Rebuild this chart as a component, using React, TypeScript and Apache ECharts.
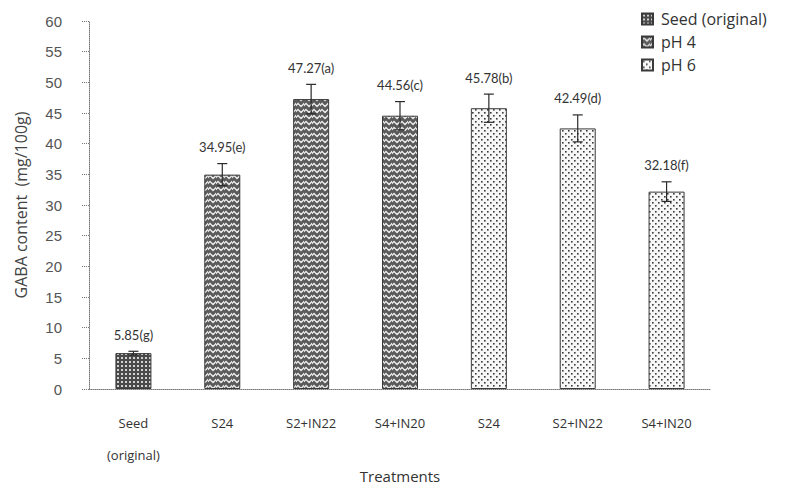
import React, { useEffect, useRef } from "react";
import * as echarts from "echarts";

const xLabels = ["Seed\n(original)", "S24", "S2+IN22", "S4+IN20", "S24", "S2+IN22", "S4+IN20"];
const seriesNames = ["Seed (original)", "pH 4", "pH 6"];
const seedValues = [5.85, null, null, null, null, null, null];
const ph4Values = [null, 34.95, 47.27, 44.56, null, null, null];
const ph6Values = [null, null, null, null, 45.78, 42.49, 32.18];
const means = [5.85, 34.95, 47.27, 44.56, 45.78, 42.49, 32.18];
const errors = [0.3, 1.8, 2.4, 2.3, 2.3, 2.2, 1.6];
const letters = ["g", "e", "a", "c", "b", "d", "f"];
const yTicks = { min: 0, max: 60, interval: 5 };

function makePattern(kind: string) {
  const c = document.createElement("canvas");
  let w = 4, h = 4;
  if (kind === "seed") { w = 4; h = 4; }
  if (kind === "ph4") { w = 8; h = 6; }
  if (kind === "ph6") { w = 6; h = 6; }
  c.width = w; c.height = h;
  const ctx = c.getContext("2d")!;
  if (kind === "seed") {
    ctx.fillStyle = "#4a4a4a";
    ctx.fillRect(0, 0, w, h);
    ctx.fillStyle = "#d0d0d0";
    ctx.fillRect(1, 1, 2, 2);
  } else if (kind === "ph4") {
    ctx.fillStyle = "#5a5a5a";
    ctx.fillRect(0, 0, w, h);
    ctx.strokeStyle = "#ececec";
    ctx.lineWidth = 1.3;
    ctx.beginPath();
    ctx.moveTo(-1, 4.5); ctx.lineTo(2, 1.5); ctx.lineTo(5, 4.5); ctx.lineTo(8, 1.5); ctx.lineTo(9, 2.5);
    ctx.stroke();
  } else {
    ctx.fillStyle = "#f7f7f7";
    ctx.fillRect(0, 0, w, h);
    ctx.fillStyle = "#3a3a3a";
    ctx.fillRect(1, 1, 1.6, 1.6);
    ctx.fillRect(4, 4, 1.6, 1.6);
  }
  return { image: c, repeat: "repeat", imageWidth: w, imageHeight: h } as any;
}

export default function App() {
  const ref = useRef<HTMLDivElement>(null);
  useEffect(() => {
    if (!ref.current) return;
    const chart = echarts.init(ref.current, null, { renderer: "svg" });
    const patterns = [makePattern("seed"), makePattern("ph4"), makePattern("ph6")];
    const valueLists = [seedValues, ph4Values, ph6Values];
    const barSeries = seriesNames.map((name, k) => ({
      name,
      type: "bar",
      data: valueLists[k],
      barWidth: 36,
      barGap: "-100%",
      itemStyle: { color: patterns[k], borderColor: "#3a3a3a", borderWidth: 1 },
      z: 2,
    }));
    const errData = means.map((m, i) => [i, m, errors[i]]);
    const option: any = {
      animation: false,
      backgroundColor: "#ffffff",
      grid: { left: 89, right: 76, top: 21, bottom: 97, containLabel: false, outerBoundsMode: "none" },
      legend: {
        orient: "vertical",
        left: 636,
        top: 6,
        itemWidth: 11,
        itemHeight: 11,
        itemGap: 7,
        icon: "rect",
        textStyle: { fontFamily: "Open Sans", fontSize: 16, color: "#333", padding: [0, 0, 0, 3] },
        data: seriesNames,
      },
      xAxis: {
        type: "category",
        data: xLabels,
        name: "Treatments",
        nameLocation: "middle",
        nameGap: 79,
        nameMoveOverlap: false,
        nameTextStyle: { fontFamily: "Open Sans", fontSize: 15, color: "#333" },
        axisLine: { lineStyle: { color: "#777", type: "dotted", width: 1 } },
        axisTick: { show: false },
        axisLabel: {
          fontFamily: "Open Sans",
          fontSize: 13,
          color: "#333",
          lineHeight: 32,
          margin: 18,
          interval: 0,
        },
      },
      yAxis: {
        type: "value",
        min: yTicks.min,
        max: yTicks.max,
        interval: yTicks.interval,
        name: "GABA content  (mg/100g)",
        nameLocation: "middle",
        nameGap: 60,
        nameMoveOverlap: false,
        nameTextStyle: { fontFamily: "Open Sans", fontSize: 16, color: "#444" },
        axisLine: { show: true, lineStyle: { color: "#777", type: "dotted", width: 1 } },
        axisTick: { show: true, length: 7, lineStyle: { color: "#777", type: "dotted" } },
        splitLine: { show: false },
        axisLabel: { fontFamily: "Liberation Sans", fontSize: 15, color: "#555", margin: 27 },
      },
      series: [
        ...barSeries,
        {
          type: "custom",
          name: "err",
          data: errData,
          z: 5,
          renderItem: (params: any, api: any) => {
            const i = api.value(0);
            const m = api.value(1);
            const e = api.value(2);
            const top = api.coord([i, m + e]);
            const bot = api.coord([i, m - e]);
            const x = top[0];
            const cw = 5;
            const st = { stroke: "#2a2a2a", lineWidth: 1.2 };
            return {
              type: "group",
              children: [
                { type: "line", shape: { x1: x, y1: top[1], x2: x, y2: bot[1] }, style: st },
                { type: "line", shape: { x1: x - cw, y1: top[1], x2: x + cw, y2: top[1] }, style: st },
                { type: "line", shape: { x1: x - cw, y1: bot[1], x2: x + cw, y2: bot[1] }, style: st },
                {
                  type: "text",
                  style: {
                    x,
                    y: top[1] - 10,
                    text: `${means[params.dataIndex].toFixed(2)}(${letters[params.dataIndex]})`,
                    textAlign: "center",
                    textVerticalAlign: "bottom",
                    fontFamily: "Lato",
                    fontSize: 13,
                    fill: "#333",
                  },
                },
              ],
            };
          },
        },
      ],
    };
    chart.setOption(option);
    return () => chart.dispose();
  }, []);
  return <div ref={ref} style={{ width: 787, height: 486, position: "absolute", left: 0, top: 0 }} />;
}
